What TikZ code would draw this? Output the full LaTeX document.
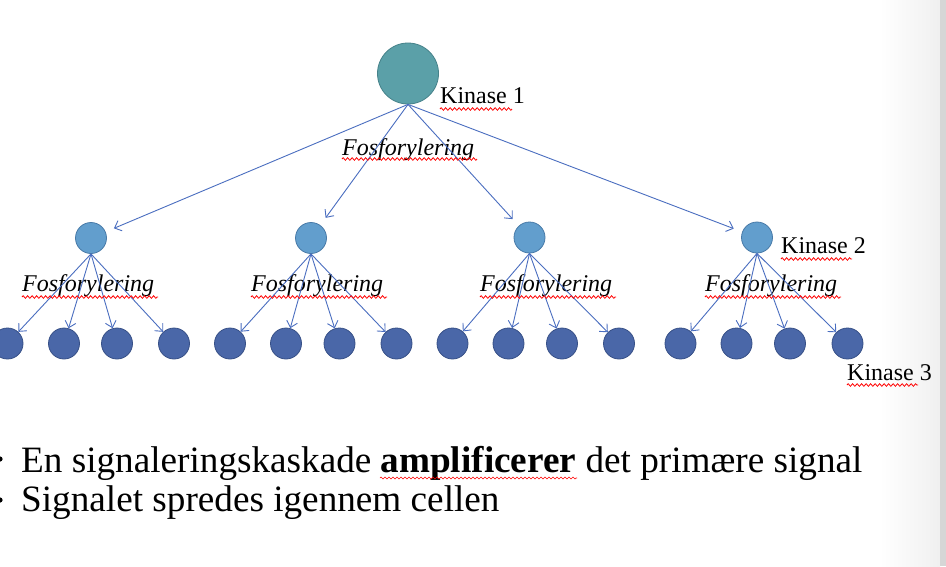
\documentclass[tikz,border=0pt]{standalone}
\usepackage{fontspec}
\setmainfont{Liberation Serif}
\usetikzlibrary{arrows.meta,decorations.pathmorphing}
\definecolor{kOne}{RGB}{91,160,168}
\definecolor{kOneLine}{RGB}{70,130,138}
\definecolor{kTwo}{RGB}{98,158,205}
\definecolor{kTwoLine}{RGB}{72,122,168}
\definecolor{kThree}{RGB}{74,103,168}
\definecolor{kThreeLine}{RGB}{55,80,135}
\definecolor{arrowblue}{RGB}{74,110,192}
\tikzset{
  kinaseone/.style={circle,draw=kOneLine,fill=kOne,line width=0.8pt,minimum size=61pt,inner sep=0pt},
  kinasetwo/.style={circle,draw=kTwoLine,fill=kTwo,line width=0.8pt,minimum size=31pt,inner sep=0pt},
  kinasethree/.style={circle,draw=kThreeLine,fill=kThree,line width=0.8pt,minimum size=31pt,inner sep=0pt},
  arr/.style={draw=arrowblue,line width=0.9pt,-{Straight Barb[length=6pt,width=11pt]}},
  lbl/.style={anchor=base west,inner sep=0pt,font=\fontsize{24}{28}\selectfont},
  phos/.style={lbl,font=\fontsize{24}{28}\selectfont\itshape},
  bigtxt/.style={anchor=base west,inner sep=0pt,font=\fontsize{37.2}{40}\selectfont},
  squig/.style={draw=red,line width=0.8pt,decorate,decoration={zigzag,segment length=4.5pt,amplitude=1.3pt}}
}
\begin{document}
\begin{tikzpicture}[x=1pt,y=-1pt]
\useasboundingbox (0,0) rectangle (946,566);
\fill[white] (0,0) rectangle (946,566);
\shade[left color=white,right color=black!6] (880,0) rectangle (940,566);
\fill[black!16] (940,0) rectangle (946,566);

% level 1
\node[kinaseone] (k1) at (408,73.5) {};
% level 2
\node[kinasetwo] (k2a) at (91,238) {};
\node[kinasetwo] (k2b) at (311,238) {};
\node[kinasetwo] (k2c) at (529.5,237.5) {};
\node[kinasetwo] (k2d) at (757,237.5) {};
% level 3
\foreach \n/\x in {a1/7.5,a2/64,a3/117,a4/174,
                   b1/230,b2/286,b3/339.5,b4/396.5,
                   c1/452.5,c2/508.5,c3/562,c4/619,
                   d1/680.5,d2/736.5,d3/790,d4/847.5}
  \node[kinasethree] (k3\n) at (\x,343.5) {};

% labels
\node[phos] (f1) at (342,155) {Fosforylering};
\node[phos] (fa) at (22,291) {Fosforylering};
\node[phos] (fb) at (251,291) {Fosforylering};
\node[phos] (fc) at (480,291) {Fosforylering};
\node[phos] (fd) at (705,291) {Fosforylering};
\node[lbl] (kl1) at (440,103) {Kinase 1};
\node[lbl] (kl2) at (781,253) {Kinase 2};
\node[lbl] (kl3) at (847,380) {Kinase 3};

% arrows level 1 -> 2
\foreach \t in {k2a,k2b,k2c,k2d}
  \draw[arr,shorten >=9pt] (k1.south) -- (\t);
% arrows level 2 -> 3
\foreach \p/\g in {k2a/a,k2b/b,k2c/c,k2d/d}
  \foreach \i in {1,2,3,4}
    \draw[arr] (\p.south) -- (k3\g\i);

% spell-check squiggles
\draw[squig] (440,109) -- (512,109);
\draw[squig] (781,259) -- (852,259);
\draw[squig] (847,385) -- (918,385);
\draw[squig] (342,159) -- (477,159);
\foreach \x in {22,251,480,705}
  \draw[squig] (\x,297) -- (\x+136,297);

% bullet text
\fill[black] (0,459) circle (2.6);
\fill[black] (0,500) circle (2.6);
\node[bigtxt] (t1) at (21,472) {En signaleringskaskade \textbf{amplificerer} det primære signal};
\node[bigtxt] (t2) at (21,511) {Signalet spredes igennem cellen};
\draw[squig,line width=0.6pt,decoration={zigzag,segment length=4pt,amplitude=1pt}] (380,478) -- (577,478);
\end{tikzpicture}
\end{document}
